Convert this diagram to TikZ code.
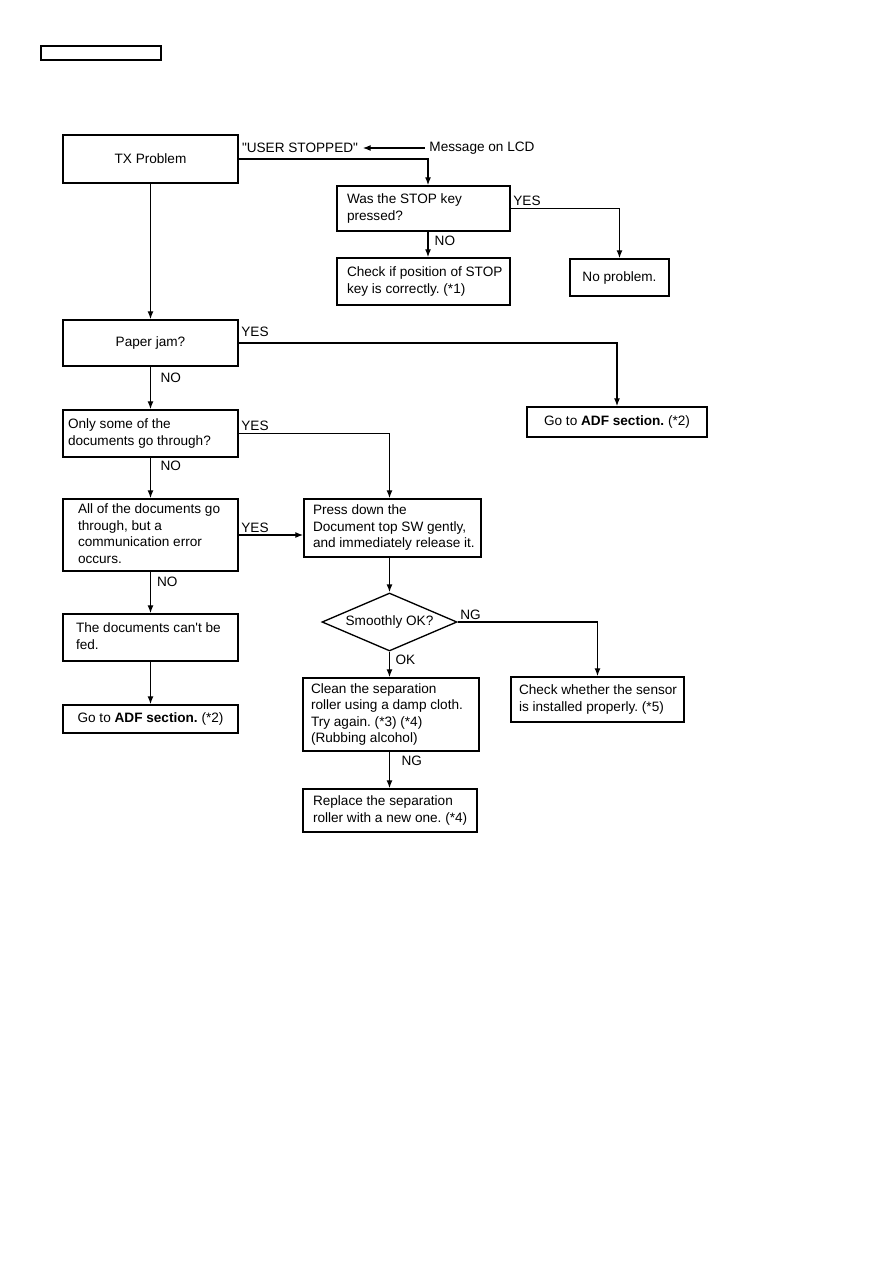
\documentclass[tikz,border=0pt]{standalone}
\usepackage{fontspec}
\setmainfont{Liberation Sans}[Ligatures=TeXOff]
\usepackage{tikz}
\usetikzlibrary{arrows.meta,positioning,shapes.geometric,calc}
\frenchspacing
\newcommand{\boxtext}[2]{\makebox[#1][l]{\begin{tabular}{@{}l@{}}#2\end{tabular}}}

\begin{document}
\begin{tikzpicture}[
  x=0.75pt, y=-0.75pt,
  every node/.style={font=\fontsize{10.2}{12.4}\selectfont},
  box/.style={draw, line width=1.1pt, inner ysep=0pt},
  lbox/.style={box},
  cbox/.style={box, align=center, inner sep=0pt},
  line/.style={line width=1pt},
  arr/.style={line, -{Latex[length=6pt,width=4.5pt]}},
  lbl/.style={inner sep=1.5pt},
]
  \useasboundingbox (0,0) rectangle (893,1263);

  % header
  \node[draw, line width=0.8pt, minimum width=90pt, minimum height=10.5pt, inner sep=0pt] (hdr) at (101,53) {};

  % top part
  \node[cbox, minimum width=131.25pt, minimum height=36pt] (tx) at (150.5,159) {TX Problem};
  \node (usr) at (300,148) {"USER STOPPED"};
  \node (msg) at (482,148) {Message on LCD};
  \node[lbox, inner xsep=7.5pt, minimum height=33.75pt] (was) at (423.5,208.5) {\boxtext{114.75pt}{Was the STOP key\\pressed?}};
  \node[cbox, minimum width=74.25pt, minimum height=27.75pt] (nop) at (619.5,277.5) {No problem.};
  \node[lbox, inner xsep=7.5pt, minimum height=35.25pt] (chk) at (423.5,281.5) {\boxtext{114.75pt}{Check if position of STOP\\key is correctly. (*1)}};

  % left column
  \node[cbox, minimum width=131.25pt, minimum height=34.5pt] (jam) at (150.5,343) {Paper jam?};
  \node[cbox, minimum width=135pt, minimum height=22.5pt] (adfa) at (617,422) {Go to \textbf{ADF section.} (*2)};
  \node[lbox, inner xsep=3.75pt, minimum height=35.25pt] (some) at (150.5,433.5) {\boxtext{123.75pt}{Only some of the\\documents go through?}};
  \node[lbox, inner xsep=11.25pt, minimum height=54pt] (all) at (150.5,535) {\boxtext{108.75pt}{All of the documents go\\through, but a\\communication error\\occurs.}};
  \node[lbox, inner xsep=9.75pt, minimum height=35.25pt] (fed) at (150.5,637.5) {\boxtext{111.75pt}{The documents can't be\\fed.}};
  \node[cbox, minimum width=131.25pt, minimum height=21pt] (adfb) at (150.5,719) {Go to \textbf{ADF section.} (*2)};

  % right column
  \node[lbox, inner xsep=6.75pt, minimum height=43.5pt] (press) at (392.5,528) {\boxtext{119.25pt}{Press down the\\Document top SW gently,\\and immediately release it.}};
  \node[draw, diamond, line width=1pt, aspect=3, inner sep=0pt, minimum width=101.25pt, minimum height=43.5pt] (smooth) at (389.5,622) {Smoothly OK?};
  \node[lbox, inner xsep=6pt, minimum height=33.75pt] (sensor) at (597.5,699.5) {\boxtext{117.75pt}{Check whether the sensor\\is installed properly. (*5)}};
  \node[lbox, inner xsep=6pt, minimum height=54.75pt] (clean) at (391,714.5) {\boxtext{120pt}{Clean the separation\\roller using a damp cloth.\\Try again. (*3) (*4)\\(Rubbing alcohol)}};
  \node[lbox, inner xsep=7.5pt, minimum height=32.25pt] (repl) at (390,810.5) {\boxtext{115.5pt}{Replace the separation\\roller with a new one. (*4)}};

  % connectors
  \draw[arr] (msg.west) -- (usr.east);
  \draw[arr] (tx.east) -| ([xshift=3.4pt]was.north);
  \draw[arr] (was.east) -| (nop.north) node[lbl, pos=0, above right] {YES};
  \draw[arr] ([xshift=3.4pt]was.south) -- ([xshift=3.4pt]chk.north) node[lbl, pos=0.37, right=3pt] {NO};
  \draw[arr] (tx.south) -- (jam.north);
  \draw[arr] (jam.east) -| (adfa.north) node[lbl, pos=0, above right, yshift=3pt] {YES};
  \draw[arr] (jam.south) -- (some.north) node[lbl, pos=0.27, right=5.5pt] {NO};
  \draw[arr] (some.east) -| (smooth.north |- press.north) node[lbl, pos=0, above right] {YES};
  \draw[arr] (some.south) -- (all.north) node[lbl, pos=0.19, right=5.5pt] {NO};
  \draw[arr] (all.east) -- (all.east -| press.west) node[lbl, pos=0, above right] {YES};
  \draw[arr] (all.south) -- (fed.north) node[lbl, pos=0.25, right=3pt] {NO};
  \draw[arr] (fed.south) -- (adfb.north);
  \draw[arr] (smooth.north |- press.south) -- (smooth.north);
  \draw[arr] (smooth.east) -| (sensor.north) node[lbl, pos=0, above right] {NG};
  \draw[arr] (smooth.south) -- (smooth.south |- clean.north) node[lbl, pos=0.33, right=2.5pt] {OK};
  \draw[arr] (smooth |- clean.south) -- (smooth |- repl.north) node[lbl, pos=0.26, right=7pt] {NG};
\end{tikzpicture}
\end{document}
